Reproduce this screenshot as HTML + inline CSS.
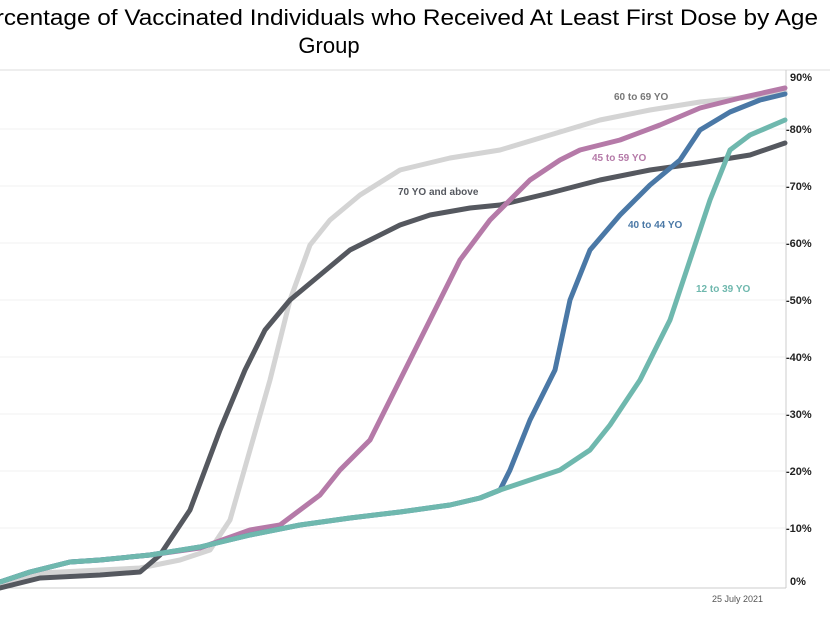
<!DOCTYPE html>
<html><head><meta charset="utf-8"><style>body{margin:0;background:#fff}svg{display:block}</style></head><body>
<svg width="830" height="622" xmlns="http://www.w3.org/2000/svg" font-family="Liberation Sans, sans-serif">
<text x="-34" y="25" font-size="22" textLength="852" lengthAdjust="spacingAndGlyphs" fill="#000">Percentage of Vaccinated Individuals who Received At Least First Dose by Age</text>
<text x="329" y="53" font-size="22" text-anchor="middle" fill="#000">Group</text>
<line x1="0" y1="70" x2="830" y2="70" stroke="#ddd"/>
<g stroke="#f0f0f0" stroke-width="1">
<line x1="0" y1="129" x2="786" y2="129"/><line x1="0" y1="186" x2="786" y2="186"/>
<line x1="0" y1="243" x2="786" y2="243"/><line x1="0" y1="300" x2="786" y2="300"/>
<line x1="0" y1="357" x2="786" y2="357"/><line x1="0" y1="414" x2="786" y2="414"/>
<line x1="0" y1="471" x2="786" y2="471"/><line x1="0" y1="528" x2="786" y2="528"/>
</g>
<line x1="786" y1="70" x2="786" y2="588" stroke="#ccc"/>
<line x1="0" y1="588" x2="786" y2="588" stroke="#ccc"/>
<g font-size="11" font-weight="bold" fill="#222">
<text x="790" y="81">90%</text><text x="786" y="133">-80%</text><text x="786" y="190">-70%</text>
<text x="786" y="247">-60%</text><text x="786" y="304">-50%</text><text x="786" y="361">-40%</text>
<text x="786" y="418">-30%</text><text x="786" y="475">-20%</text><text x="786" y="532">-10%</text>
<text x="790" y="585">0%</text>
</g>
<text x="712" y="602" font-size="9" fill="#555">25 July 2021</text>
<g fill="none" stroke-width="5" stroke-linejoin="round" stroke-linecap="round">
<polyline stroke="#d4d4d4" points="0,585 40,573 140,568 180,560 210,550 230,520 250,450 270,380 290,300 310,245 330,220 360,195 400,170 450,158 500,150 550,135 600,120 650,110 700,102 750,97 785,92"/>
<polyline stroke="#55585f" points="0,588 40,578 100,575 140,572 160,555 190,510 220,430 245,370 265,330 290,300 320,275 350,250 370,240 400,225 430,215 470,208 500,205 550,193 600,180 650,170 700,163 750,155 785,143"/>
<polyline stroke="#b57aa8" points="0,582 30,572 70,562 100,560 150,555 200,548 250,530 280,525 300,510 320,495 340,470 370,440 400,380 430,320 460,260 475,240 490,220 510,200 530,180 560,160 580,150 620,140 660,125 700,108 740,98 785,88"/>
<polyline stroke="#4a78a6" points="0,582 30,572 70,562 100,560 150,555 200,547 250,535 300,525 350,518 400,512 450,505 480,498 500,490 510,470 530,420 555,370 570,300 590,250 620,215 650,185 680,160 700,130 730,112 760,100 785,94"/>
<polyline stroke="#6fb8ae" points="0,582 30,572 70,562 100,560 150,555 200,547 250,535 300,525 350,518 400,512 450,505 480,498 500,490 530,480 560,470 590,450 610,425 640,380 670,320 690,260 710,200 730,150 750,135 785,120"/>
</g>
<g font-size="10" font-weight="bold">
<text x="614" y="100" fill="#777">60 to 69 YO</text>
<text x="592" y="161" fill="#b57aa8">45 to 59 YO</text>
<text x="398" y="195" fill="#55585f">70 YO and above</text>
<text x="628" y="228" fill="#4a78a6">40 to 44 YO</text>
<text x="696" y="292" fill="#6fb8ae">12 to 39 YO</text>
</g>
</svg>
</body></html>
